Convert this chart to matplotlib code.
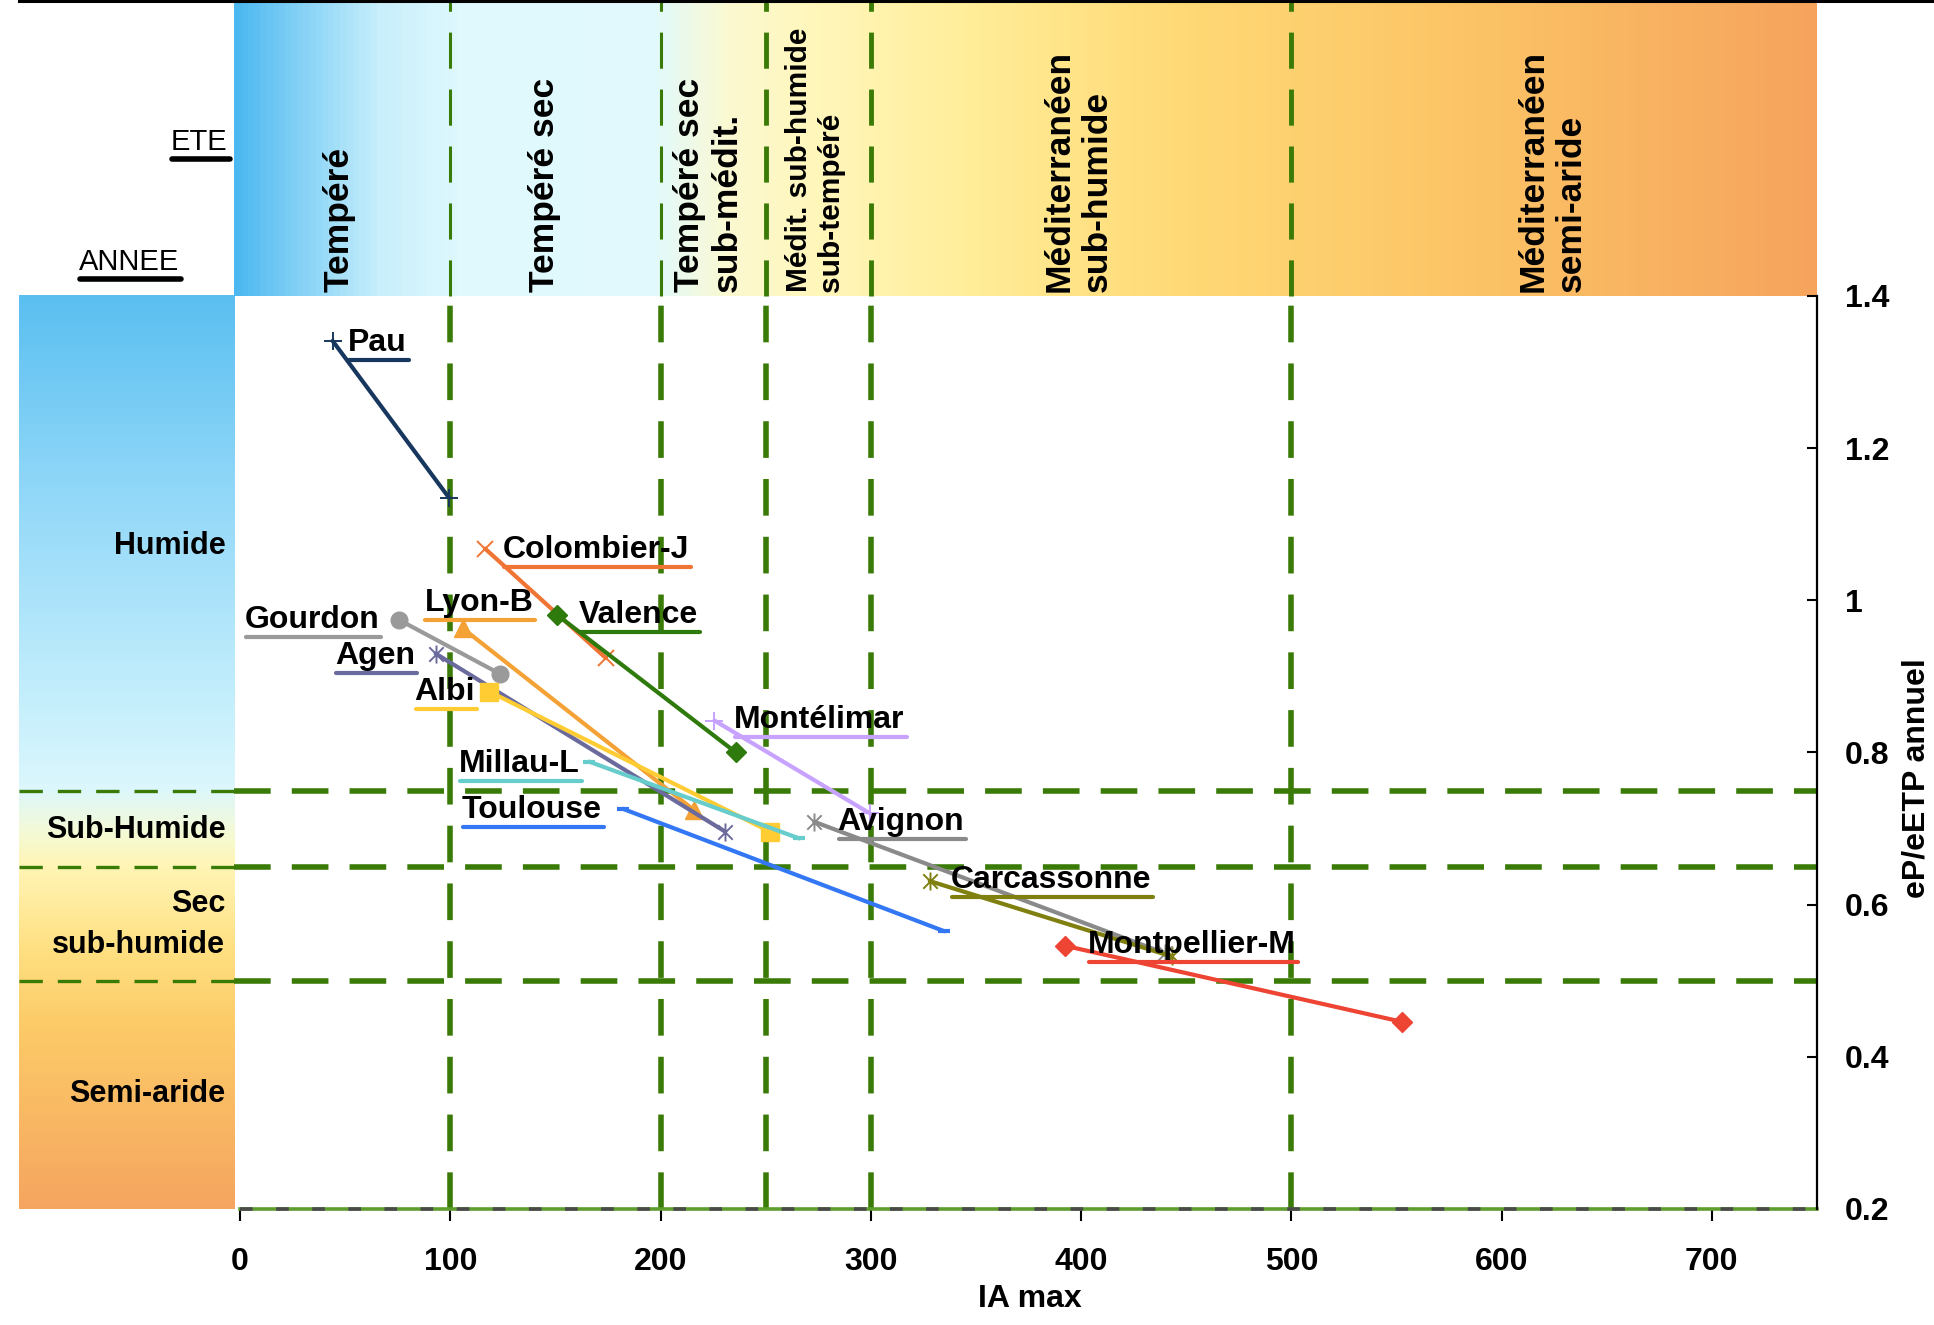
import matplotlib
matplotlib.use("Agg")
import matplotlib.pyplot as plt
from matplotlib.colors import LinearSegmentedColormap
from matplotlib.lines import Line2D
from matplotlib.path import Path
import numpy as np

# ---------------- data ----------------
stations = ["Pau", "Colombier-J", "Valence", "Lyon-B", "Gourdon", "Agen", "Albi",
            "Millau-L", "Toulouse", "Montélimar", "Avignon", "Carcassonne", "Montpellier-M"]
ia_start = [44.0, 116.5, 150.7, 106.0, 75.8, 93.0, 118.6, 166.0, 182.0, 225.6, 273.0, 328.0, 392.3]
ia_end = [99.3, 174.0, 235.8, 216.0, 123.8, 230.7, 252.0, 266.0, 335.0, 299.5, 440.0, 443.0, 552.6]
ratio_start = [1.341, 1.068, 0.981, 0.963, 0.974, 0.930, 0.880, 0.788, 0.726, 0.842, 0.709, 0.631, 0.546]
ratio_end = [1.135, 0.924, 0.800, 0.724, 0.903, 0.696, 0.696, 0.687, 0.565, 0.720, 0.536, 0.532, 0.446]

ia_thresholds = [100, 200, 250, 300, 500]
ratio_thresholds = [0.75, 0.65, 0.5]

summer_classes = ["Tempéré", "Tempéré sec", "Tempéré sec\nsub-médit.",
                  "Médit. sub-humide\nsub-tempéré", "Méditerranéen\nsub-humide",
                  "Méditerranéen\nsemi-aride"]
annual_classes = ["Humide", "Sub-Humide", "Sec\nsub-humide", "Semi-aride"]

x_ticks = [0, 100, 200, 300, 400, 500, 600, 700]
x_tick_labels = ["0", "100", "200", "300", "400", "500", "600", "700"]
y_ticks = [0.2, 0.4, 0.6, 0.8, 1.0, 1.2, 1.4]
y_tick_labels = ["0.2", "0.4", "0.6", "0.8", "1", "1.2", "1.4"]

# ---------------- style / layout ----------------
colors = ["#17375E", "#F07434", "#2F7A0C", "#F4A236", "#9A9A9A", "#6A6A9C", "#FFCC33",
          "#66CCCC", "#3377F5", "#C8A2FF", "#8A8A8A", "#808010", "#EE4433"]
star = Path([(-0.8, -0.8), (0.8, 0.8), (-0.8, 0.8), (0.8, -0.8), (0, -1), (0, 1)],
            [Path.MOVETO, Path.LINETO, Path.MOVETO, Path.LINETO, Path.MOVETO, Path.LINETO])
markers = ["+", "x", "D", "^", "o", star, "s", "_", "_", "+", star, star, "D"]
marker_sizes = [13, 12, 10, 13, 12, 13, 13, 8, 8, 13, 13, 13, 10]
label_pos = [(51.4, 1.338), (124.9, 1.066), (161.3, 0.981), (87.7, 0.996), (2.2, 0.974),
             (45.0, 0.927), (83.0, 0.880), (104.2, 0.785), (105.4, 0.724), (235.0, 0.843),
             (284.2, 0.709), (338.0, 0.633), (403.3, 0.547)]
summer_label_x = [46.9, 144.7, 222.6, 273.3, 398.6, 623.9]
summer_label_size = [25.5, 25.5, 25.5, 21.5, 25.5, 25.5]
annual_label_y = [1.071, 0.698, 0.574, 0.351]

GREEN = "#3A7A06"
plt.rcParams["font.family"] = ["Liberation Sans", "DejaVu Sans"]

W, H = 1934, 1325
fig = plt.figure(figsize=(W / 100, H / 100), dpi=100)

X_LEFT, X_RIGHT = -105.4, 750
Y_BOT, Y_TOP = 0.2, 1.789
ax = fig.add_axes([18.5 / W, 1 - 1209 / H, (1817 - 18.5) / W, 1209 / H])
ax.set_facecolor("white")

# ---- gradient bands ----
top_cmap = LinearSegmentedColormap.from_list("top", [
    (0.0, "#4DB8F0"), (0.04, "#86D2F6"), (0.09, "#C8EFFB"), (0.14, "#DFF9FE"),
    (0.265, "#E2FAFC"), (0.31, "#FBF9D2"), (0.36, "#FFF7BE"), (0.46, "#FFEE9A"),
    (0.60, "#FFD975"), (0.78, "#FCC466"), (1.0, "#F6A45D")])
grad = np.linspace(0, 1, 512).reshape(1, -1)
ax.imshow(grad, cmap=top_cmap, extent=(-2.9, X_RIGHT, 1.4, Y_TOP), aspect="auto",
          interpolation="bilinear", zorder=0)

left_cmap = LinearSegmentedColormap.from_list("left", [
    (0.0, "#5ABFF0"), (0.2, "#8ED6F8"), (0.45, "#C6EFFC"), (0.54, "#DCF7FD"),
    (0.585, "#F3FAD8"), (0.625, "#FFF5B6"), (0.72, "#FFDF80"), (0.80, "#FDCB68"),
    (1.0, "#F5A55F")])
gradv = np.linspace(0, 1, 512).reshape(-1, 1)
ax.imshow(gradv, cmap=left_cmap, extent=(X_LEFT, -2.9, Y_BOT, 1.4), aspect="auto",
          interpolation="bilinear", origin="upper", zorder=0)

# ---- threshold dashed lines ----
for xv in ia_thresholds:
    ax.plot([xv, xv], [Y_BOT, 1.4], color=GREEN, lw=4.0, dashes=(6.6, 3.8), zorder=1)
    thin = 2.2 if xv in (100, 200) else 3.5
    ax.plot([xv, xv], [1.4, Y_TOP], color=GREEN, lw=thin, dashes=(26 / thin, 15 / thin),
            zorder=1)
for yv in ratio_thresholds:
    ax.plot([-2.9, X_RIGHT], [yv, yv], color=GREEN, lw=4.0, dashes=(6.6, 3.8), zorder=1)
    ax.plot([X_LEFT, -2.9], [yv, yv], color=GREEN, lw=2.4, dashes=(7.0, 4.5), zorder=1)

# bottom axis line (green with dark dashes)
ax.plot([0, X_RIGHT], [Y_BOT, Y_BOT], color="#5E9E2E", lw=2.6, zorder=2, clip_on=False)
ax.plot([0, X_RIGHT], [Y_BOT, Y_BOT], color="#4A4A4A", lw=2.6, dashes=(3.5, 6.5),
        zorder=2, clip_on=False)

# ---- series ----
for i, name in enumerate(stations):
    c = colors[i]
    m = markers[i]
    open_marker = (m in ("+", "x", "_")) or isinstance(m, Path)
    ax.plot([ia_start[i], ia_end[i]], [ratio_start[i], ratio_end[i]], color=c, lw=3.0,
            marker=m, ms=marker_sizes[i], mec=c,
            mfc="none" if open_marker else c,
            mew=(1.4 if m != "_" else 3.0) if open_marker else 1.0,
            zorder=3, solid_capstyle="round")

texts = []
for i, name in enumerate(stations):
    t = ax.text(label_pos[i][0], label_pos[i][1], name, fontsize=23, fontweight="bold",
                ha="left", va="center", color="black", zorder=5)
    texts.append(t)

# ---- class labels ----
for lab, xv, fs in zip(summer_classes, summer_label_x, summer_label_size):
    ax.text(xv, 1.405, lab, rotation=90, ha="center", va="bottom", multialignment="left",
            fontsize=fs, fontweight="bold", color="black", zorder=5, linespacing=1.2)
for lab, yv in zip(annual_classes, annual_label_y):
    ax.text(-7, yv, lab, ha="right", va="center", multialignment="right", fontsize=22,
            fontweight="bold", color="black", zorder=5, linespacing=1.5)

t_ete = ax.text(-5.9, 1.603, "ETE", ha="right", va="center", fontsize=21,
                color="black", zorder=5)
t_annee = ax.text(-52.7, 1.445, "ANNEE", ha="center", va="center", fontsize=21,
                  color="black", zorder=5)

# ---- axes cosmetics ----
ax.set_xlim(X_LEFT, X_RIGHT)
ax.set_ylim(Y_BOT, Y_TOP)
for s in ("left", "top", "bottom"):
    ax.spines[s].set_visible(False)
ax.spines["right"].set_bounds(0.2, 1.4)
ax.spines["right"].set_linewidth(1.6)
ax.yaxis.tick_right()
ax.set_xticks(x_ticks)
ax.set_xticklabels(x_tick_labels)
ax.set_yticks(y_ticks)
ax.set_yticklabels(y_tick_labels)
ax.tick_params(axis="x", direction="out", length=8.5, width=1.5, pad=19, labelsize=23)
ax.tick_params(axis="y", direction="in", length=7, width=1.5, pad=20, labelsize=23)
for lab in ax.get_xticklabels() + ax.get_yticklabels():
    lab.set_fontweight("bold")

fig.text(0.5325, 0.0196, "IA max", ha="center", va="center", fontsize=23,
         fontweight="bold")
fig.text(0.9985, 0.413, "eP/eETP annuel", rotation=90, ha="right", va="center",
         fontsize=23, fontweight="bold")

# top border line
fig.add_artist(Line2D([18.5 / W, 1.0], [1 - 1.2 / H, 1 - 1.2 / H], color="black", lw=2.2))

# ---- underlines ----
fig.canvas.draw()
renderer = fig.canvas.get_renderer()
inv = ax.transData.inverted()


def underline(t, color, offset_px, lw):
    bb = t.get_window_extent(renderer)
    yc = (bb.y0 + bb.y1) / 2 - offset_px
    (x0, yu), (x1, _) = inv.transform([(bb.x0 + 1, yc), (bb.x1 + 2, yc)])
    ax.plot([x0, x1], [yu, yu], color=color, lw=lw, solid_capstyle="round", zorder=4)


for t, c in zip(texts, colors):
    underline(t, c, 17, 3.0)
underline(t_ete, "black", 17, 4.0)
underline(t_annee, "black", 17, 4.0)

fig.savefig("out.png", dpi=100)
